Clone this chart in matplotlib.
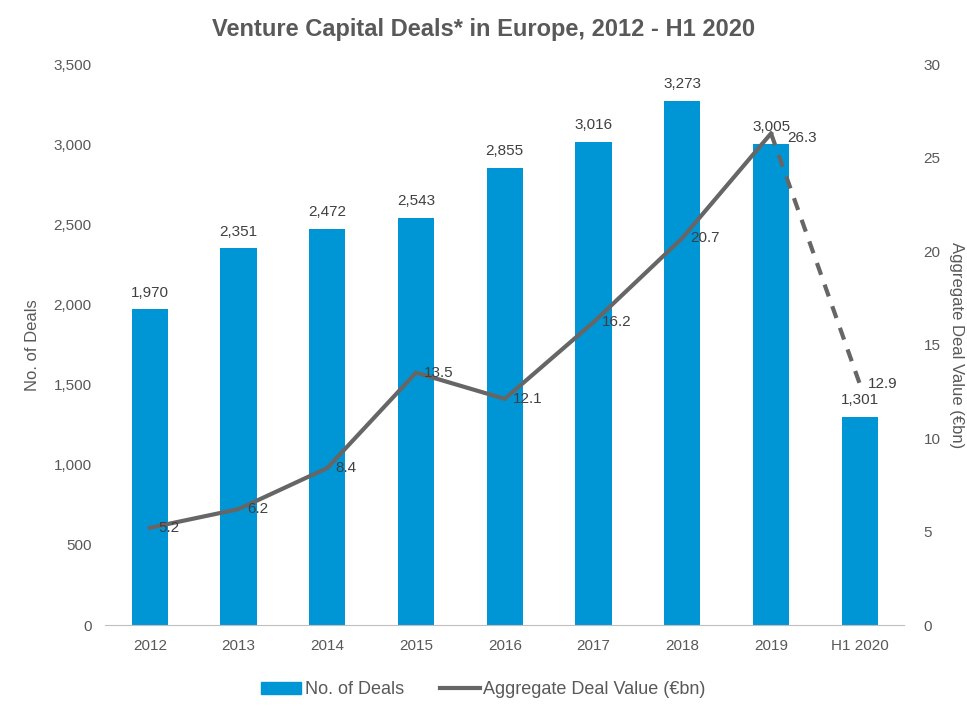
import matplotlib
matplotlib.use("Agg")
import matplotlib.pyplot as plt
from matplotlib.lines import Line2D
from matplotlib.patches import Patch

plt.rcParams['font.family'] = ['Liberation Sans Narrow', 'Liberation Sans', 'DejaVu Sans']

categories = ["2012", "2013", "2014", "2015", "2016", "2017", "2018", "2019", "H1 2020"]
deals = [1970, 2351, 2472, 2543, 2855, 3016, 3273, 3005, 1301]
values = [5.2, 6.2, 8.4, 13.5, 12.1, 16.2, 20.7, 26.3, 12.9]

bar_color = "#0096D6"
line_color = "#666666"
text_color = "#595959"

fig = plt.figure(figsize=(9.67, 7.06), dpi=100)
ax = fig.add_axes([0.109, 0.1147, 0.826, 0.7943])
x = list(range(len(categories)))
ax.bar(x, deals, width=0.41, color=bar_color, zorder=2)
ax.set_xlim(-0.5, len(categories) - 0.5)
ax.set_ylim(0, 3500)
ax.set_yticks(range(0, 3501, 500))
ax.set_yticklabels([f"{v:,}" for v in range(0, 3501, 500)])
ax.set_xticks(x)
ax.set_xticklabels(categories)
for s in ["top", "right", "left"]:
    ax.spines[s].set_visible(False)
ax.spines["bottom"].set_color("#BFBFBF")
ax.tick_params(length=0, colors=text_color, labelsize=11, pad=10)
ax.set_ylabel("No. of Deals", color=text_color, fontsize=12, labelpad=10)
for xi, d in zip(x, deals):
    ax.annotate(f"{d:,}", (xi, d), xytext=(0, 7), textcoords="offset points",
                ha="center", va="bottom", color="#404040", fontsize=11)

ax2 = ax.twinx()
ax2.set_ylim(0, 30)
ax2.set_yticks(range(0, 31, 5))
for s in ["top", "right", "left", "bottom"]:
    ax2.spines[s].set_visible(False)
ax2.tick_params(length=0, colors=text_color, labelsize=11, pad=14)
ax2.set_ylabel("Aggregate Deal Value (€bn)", color=text_color, fontsize=12,
               rotation=270, labelpad=6, va="bottom")
ax2.plot(x[:-1], values[:-1], color=line_color, lw=3, zorder=3, solid_joinstyle="miter")
ax2.plot(x[-2:], values[-2:], color=line_color, lw=3, ls=(0, (3, 2.5)), zorder=3)
vmax = max(values)
for xi, v in zip(x, values):
    off = (12, -3) if v == vmax else (6, 0)
    ax2.annotate(f"{v}", (xi, v), xytext=off, textcoords="offset points",
                 ha="left", va="center", color="#404040", fontsize=11)

fig.suptitle("Venture Capital Deals* in Europe, 2012 - H1 2020", y=0.975,
             fontsize=17, fontweight="bold", color="#595959")

handles = [Patch(color=bar_color, label="No. of Deals"),
           Line2D([], [], color=line_color, lw=3, label="Aggregate Deal Value (€bn)")]
fig.legend(handles=handles, loc="center", bbox_to_anchor=(0.5, 0.023), ncol=2,
           frameon=False, fontsize=13, labelcolor=text_color, handlelength=2.2,
           handletextpad=0.2, columnspacing=2.0, handleheight=0.6)

fig.savefig("out.png", dpi=100)
